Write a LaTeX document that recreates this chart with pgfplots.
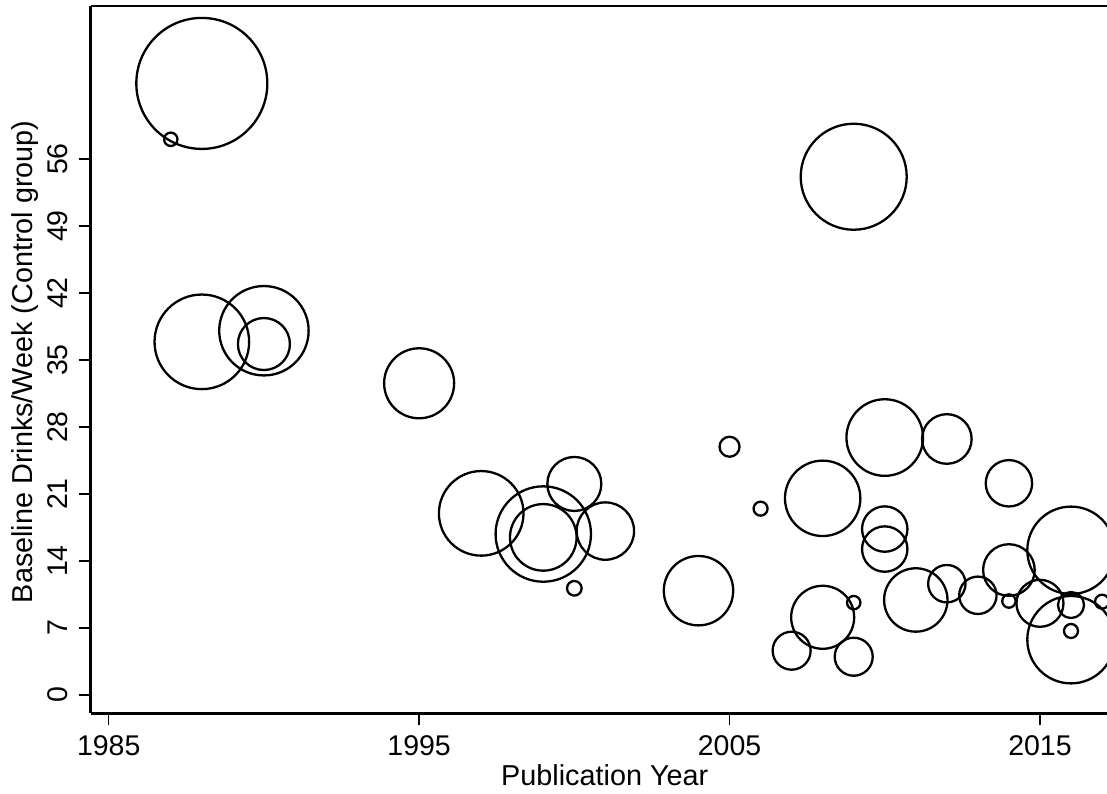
\documentclass[border=0pt]{standalone}
\usepackage{pgfplots}
\pgfplotsset{compat=1.18}
\usepackage{pgfplotstable}
\usepackage{fontspec}
\setmainfont{Liberation Sans}
\pgfplotstableread{
x y r
1987 58.06 6.7
1988 63.9 65.5
1988 36.9 47.3
1990 38.06 44.7
1990 36.67 26
1995 32.57 35
1997 18.98 42.3
1999 16.82 47.7
1999 16.47 33.3
2000 22.05 27
2000 11.15 7.3
2001 17.13 28.7
2004 10.9 34.7
2005 25.94 10
2006 19.47 7
2007 4.63 19
2008 20.55 37.7
2008 8.12 31.5
2009 54.15 53
2009 9.65 6.7
2009 4.0 19
2010 26.9 38.3
2010 17.34 22.7
2010 15.25 22.7
2011 9.93 31.7
2012 26.75 24.8
2012 11.63 18.7
2013 10.42 18.7
2014 22.12 23.2
2014 13.06 25.8
2014 9.82 6.7
2015 9.58 23.5
2016 15.12 43.7
2016 5.78 43.7
2016 9.4 13
2016 6.69 7
2017 9.75 7
}\bubbles
\begin{document}
\begin{tikzpicture}
\begin{axis}[
  scale only axis, width=508.15pt, height=353.65pt,
  xmin=1984.42, xmax=2017.16, ymin=-1.91, ymax=71.99,
  axis x line*=box, axis y line*=left,
  axis line style={line width=1.3pt, -},
  xtick={1985,1995,2005,2015}, ytick={0,7,...,56},
  xtick pos=left, ytick pos=left,
  tick align=outside, major tick length=6pt,
  tick style={line width=0.7pt, black},
  /pgf/number format/1000 sep={},
  /pgf/number format/assume math mode=true,
  tick label style={font=\fontsize{14.25}{17}\selectfont},
  xticklabel shift=1.75pt, yticklabel shift=2.1pt,
  yticklabel style={rotate=90, anchor=south},
  label style={font=\fontsize{14.4}{17}\selectfont},
  xlabel={Publication Year},
  ylabel={Baseline Drinks/Week (Control group)},
  xlabel style={at={(axis description cs:0.5058,-0.1024)}, anchor=base},
  ylabel style={at={(axis description cs:-0.05746,0.497)}, anchor=base},
]
\addplot[scatter, only marks, mark=o, line width=1.15pt,
  scatter/use mapped color={draw=black, fill=none},
  visualization depends on={0.5*\thisrow{r} \as \rad},
  scatter/@pre marker code/.append style={/tikz/mark size=\rad}]
  table[x=x, y=y] {\bubbles};
\coordinate (sw) at (rel axis cs:0,0);
\coordinate (ne) at (rel axis cs:1,1);
\end{axis}
\pgfresetboundingbox
\path[use as bounding box] ([xshift=-45.35pt,yshift=-40.35pt]sw) rectangle ([yshift=3pt]ne);
\end{tikzpicture}
\end{document}
